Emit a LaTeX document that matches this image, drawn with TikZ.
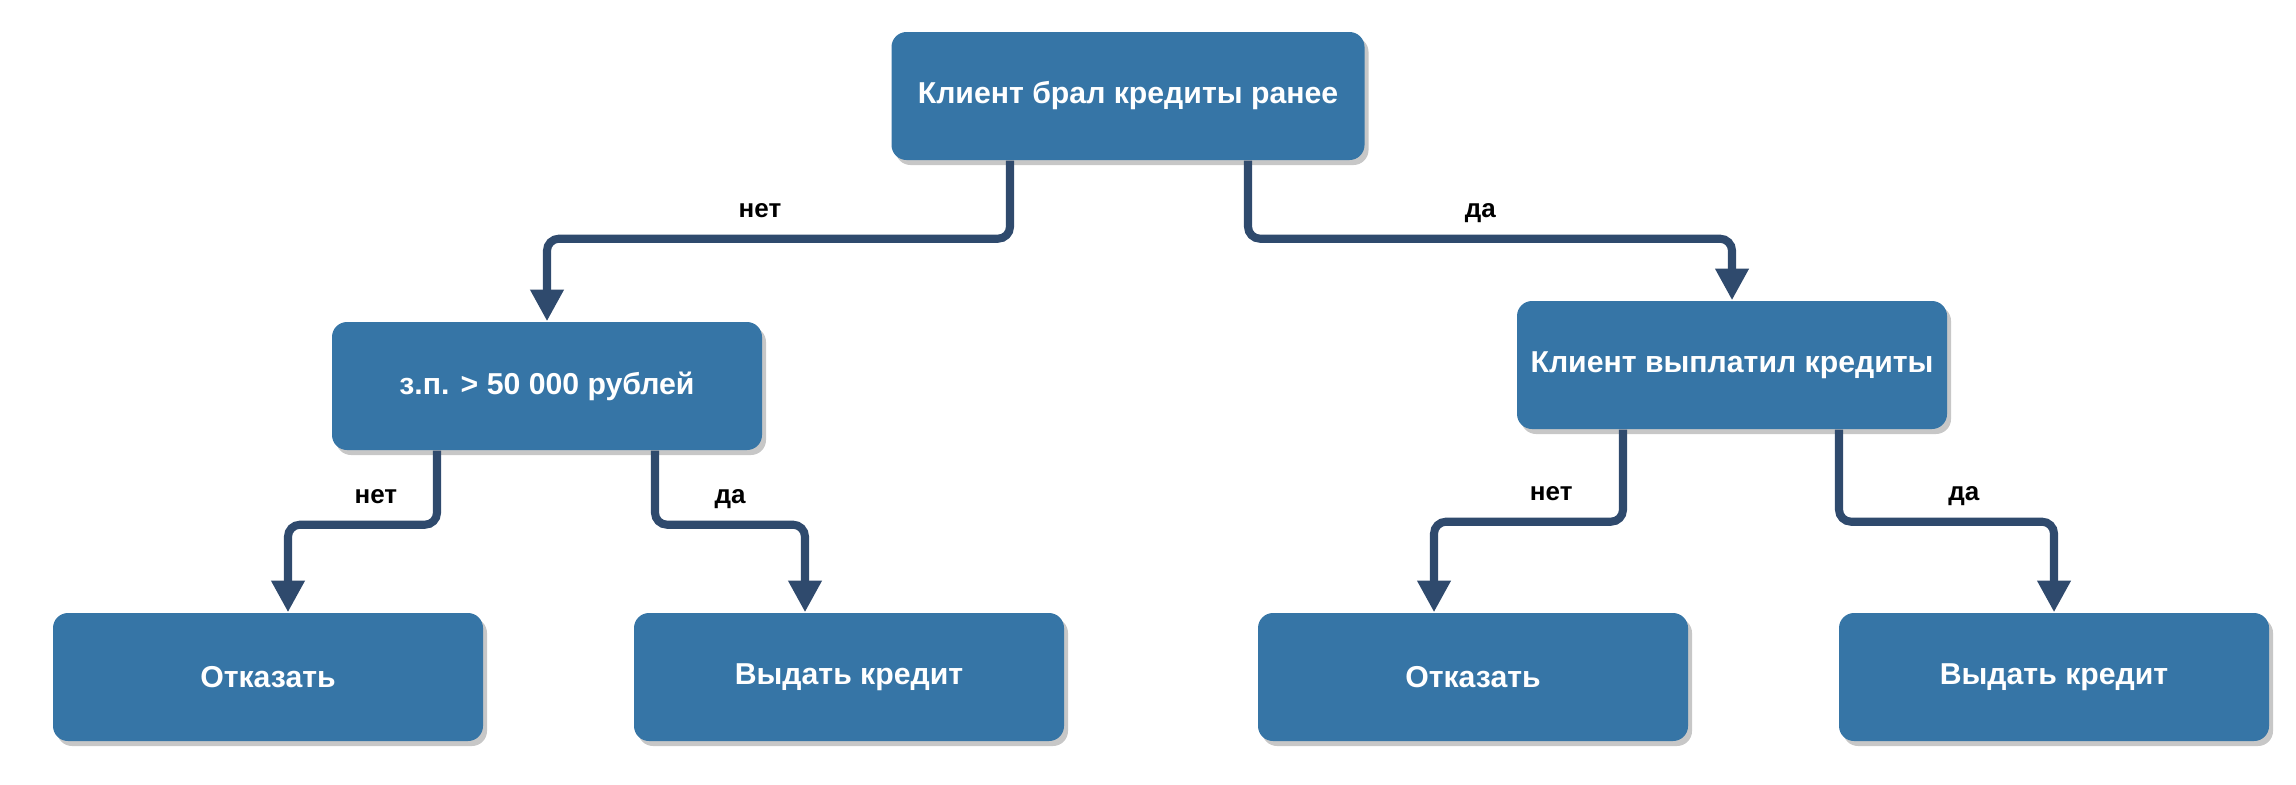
\documentclass[tikz,border=0pt]{standalone}
\usepackage{fontspec}
\setmainfont{Liberation Sans}
\usetikzlibrary{positioning}
\usetikzlibrary{arrows.meta}
\usetikzlibrary{shadows}
\definecolor{boxblue}{RGB}{54,117,166}
\definecolor{linknavy}{RGB}{47,74,109}

\begin{document}
\begin{tikzpicture}[
    box/.style={rectangle, rounded corners=0.15cm, fill=boxblue, text=white,
        font=\bfseries\fontsize{8.6}{10}\selectfont, minimum width=4.3cm, minimum height=1.28cm,
        drop shadow={shadow xshift=0.04cm, shadow yshift=-0.05cm, fill=black!22, opacity=1}},
    link/.style={draw=linknavy, line width=2.3pt, rounded corners=0.12cm, -{Triangle[width=9pt,length=9pt]}},
    answer/.style={above=1.5pt, text depth=0pt, font=\bfseries\fontsize{7.4}{9}\selectfont, text=black}
]
\useasboundingbox (0,0) rectangle (22.96,7.84);
% Credit decision tree
\node[box, minimum width=4.73cm] (root) at (11.28,6.88) {Клиент брал кредиты ранее};
\node[box] (salary) at (5.47,3.98) {з.п. > 50 000 рублей};
\node[box] (repaid) at (17.32,4.19) {Клиент выплатил кредиты};
\node[box] (refuse1) at (2.68,1.07) {Отказать};
\node[box] (grant1) at (8.49,1.07) {Выдать кредит};
\node[box] (refuse2) at (14.73,1.07) {Отказать};
\node[box] (grant2) at (20.54,1.07) {Выдать кредит};

\draw[link] ([xshift=-1.18cm]root.south) -- ++(0,-0.78) -| node[answer, pos=.27] {нет} (salary.north);
\draw[link] ([xshift=1.20cm]root.south) -- ++(0,-0.78) -| node[answer, pos=.24] {да} (repaid.north);
\draw[link] ([xshift=-1.10cm]salary.south) -- ++(0,-0.74) -| node[answer, pos=.205] {нет} ([xshift=0.20cm]refuse1.north);
\draw[link] ([xshift=1.08cm]salary.south) -- ++(0,-0.74) -| node[answer, pos=.25] {да} ([xshift=-0.44cm]grant1.north);
\draw[link] ([xshift=-1.09cm]repaid.south) -- ++(0,-0.92) -| node[answer, pos=.19] {нет} ([xshift=-0.39cm]refuse2.north);
\draw[link] ([xshift=1.07cm]repaid.south) -- ++(0,-0.92) -| node[answer, pos=.29] {да} (grant2.north);
\end{tikzpicture}
\end{document}
